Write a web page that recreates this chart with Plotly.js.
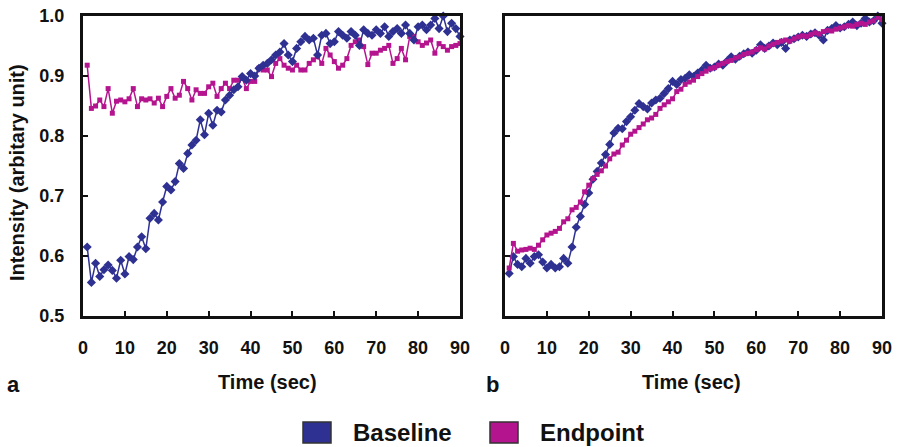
<!DOCTYPE html>
<html>
<head>
<meta charset="utf-8">
<script src="https://cdn.plot.ly/plotly-3.0.1.min.js"></script>
<style>html,body{margin:0;padding:0;background:#fff;}#chart{width:899px;height:447px;}</style>
</head>
<body>
<div id="chart"></div>
<script>
const timeSec = [1,2,3,4,5,6,7,8,9,10,11,12,13,14,15,16,17,18,19,20,21,22,23,24,25,26,27,28,29,30,
  31,32,33,34,35,36,37,38,39,40,41,42,43,44,45,46,47,48,49,50,51,52,53,54,55,56,57,58,59,60,
  61,62,63,64,65,66,67,68,69,70,71,72,73,74,75,76,77,78,79,80,81,82,83,84,85,86,87,88,89,90];

const baselineA = [0.615,0.556,0.588,0.566,0.577,0.585,0.576,0.563,0.593,0.570,0.599,0.594,0.615,0.632,0.612,
  0.663,0.671,0.660,0.690,0.716,0.710,0.724,0.754,0.746,0.771,0.785,0.793,0.827,0.802,0.838,
  0.818,0.843,0.840,0.860,0.868,0.877,0.882,0.899,0.893,0.904,0.900,0.913,0.918,0.921,0.927,0.935,
  0.940,0.954,0.935,0.924,0.946,0.957,0.966,0.960,0.963,0.935,0.968,0.971,0.954,0.957,
  0.974,0.968,0.963,0.974,0.968,0.951,0.977,0.971,0.968,0.977,0.971,0.982,0.966,0.974,0.979,
  0.971,0.985,0.971,0.960,0.982,0.985,0.977,0.985,0.996,0.979,1.000,0.974,0.988,0.979,0.966];

const endpointA = [0.918,0.846,0.850,0.860,0.849,0.879,0.838,0.858,0.860,0.857,0.862,0.879,0.849,0.862,0.860,
  0.862,0.855,0.863,0.849,0.866,0.879,0.863,0.868,0.891,0.879,0.860,0.877,0.871,0.871,0.882,
  0.888,0.866,0.879,0.888,0.879,0.893,0.893,0.896,0.879,0.891,0.891,0.913,0.910,0.910,0.899,
  0.921,0.929,0.918,0.913,0.910,0.918,0.910,0.910,0.921,0.927,0.932,0.921,0.946,0.935,0.924,
  0.913,0.918,0.929,0.951,0.957,0.960,0.949,0.919,0.938,0.938,0.943,0.946,0.951,0.921,0.929,
  0.946,0.927,0.966,0.966,0.957,0.951,0.955,0.960,0.938,0.954,0.949,0.943,0.949,0.951,0.954];

const baselineB = [0.571,0.599,0.586,0.582,0.596,0.588,0.599,0.602,0.590,0.580,0.586,0.580,0.582,0.596,0.588,
  0.615,0.648,0.666,0.686,0.705,0.728,0.741,0.755,0.769,0.786,0.805,0.813,0.812,0.824,0.832,
  0.843,0.854,0.849,0.845,0.855,0.860,0.863,0.871,0.879,0.891,0.886,0.894,0.896,0.902,0.899,
  0.905,0.910,0.918,0.913,0.915,0.920,0.918,0.925,0.932,0.928,0.933,0.937,0.940,0.938,0.943,
  0.952,0.946,0.950,0.955,0.952,0.956,0.946,0.960,0.962,0.965,0.968,0.966,0.970,0.972,0.968,
  0.960,0.976,0.979,0.984,0.980,0.982,0.986,0.990,0.984,0.988,0.996,0.990,0.992,1.000,0.988];

const endpointB = [0.580,0.621,0.608,0.610,0.611,0.613,0.611,0.618,0.627,0.635,0.638,0.641,0.646,0.657,0.662,
  0.677,0.681,0.690,0.707,0.718,0.729,0.736,0.742,0.750,0.762,0.770,0.773,0.785,0.793,0.803,
  0.808,0.814,0.820,0.827,0.830,0.836,0.846,0.852,0.857,0.862,0.874,0.878,0.886,0.890,0.893,
  0.899,0.904,0.908,0.912,0.914,0.918,0.921,0.924,0.926,0.930,0.932,0.936,0.938,0.940,0.944,
  0.947,0.945,0.950,0.953,0.956,0.958,0.960,0.958,0.962,0.965,0.967,0.966,0.969,0.972,0.970,
  0.974,0.976,0.975,0.978,0.980,0.982,0.984,0.983,0.986,0.988,0.986,0.990,0.992,0.998,0.994];

const seriesNames = ['Baseline', 'Endpoint'];
const xTicks = [0,10,20,30,40,50,60,70,80,90];
const yTicks = [0.5,0.6,0.7,0.8,0.9,1.0];
const xTitle = 'Time (sec)';
const yTitle = 'Intensity (arbitary unit)';
const panelLabels = ['a', 'b'];

const BLUE = '#2e3192';
const MAG = '#b5148f';
const FONT = 'Liberation Sans, Arial, Helvetica, sans-serif';

function trace(y, name, color, sym, size, xa, ya) {
  return {
    x: timeSec, y: y, name: name, type: 'scatter', mode: 'lines+markers',
    xaxis: xa, yaxis: ya, showlegend: false, cliponaxis: false,
    line: {color: color, width: 1.5},
    marker: {color: color, symbol: sym, size: size}
  };
}

const data = [
  trace(endpointA, seriesNames[1], MAG, 'square', 5, 'x', 'y'),
  trace(baselineA, seriesNames[0], BLUE, 'diamond', 7, 'x', 'y'),
  trace(baselineB, seriesNames[0], BLUE, 'diamond', 7, 'x2', 'y2'),
  trace(endpointB, seriesNames[1], MAG, 'square', 5, 'x2', 'y2')
];

const W = 899, H = 447;
const px = v => v / W;
const py = v => 1 - v / H;

function xaxisDef(domain, anchor) {
  return {
    domain: domain, anchor: anchor, range: [0, 90], tickvals: xTicks,
    ticks: 'inside', ticklen: 5, tickwidth: 2, tickcolor: '#111',
    showline: true, linewidth: 3, linecolor: '#111', mirror: true,
    showgrid: false, zeroline: false, ticklabelstandoff: 13,
    tickfont: {family: FONT, size: 18, weight: 700, color: '#111'}
  };
}
function yaxisDef(anchor, showLabels) {
  return {
    domain: [py(316), py(16)], anchor: anchor, range: [0.5, 1.0], tickvals: yTicks,
    tickformat: '.1f', ticks: 'inside', ticklen: 5, tickwidth: 2, tickcolor: '#111',
    showline: true, linewidth: 3, linecolor: '#111', mirror: true,
    showgrid: false, zeroline: false, showticklabels: showLabels, ticklabelstandoff: 12,
    tickfont: {family: FONT, size: 18, weight: 700, color: '#111'}
  };
}

const annFont = (s) => ({family: FONT, size: s, weight: 700, color: '#111'});
const annotations = [
  {text: xTitle, x: px(267), y: py(382), xanchor: 'center', yanchor: 'middle', font: annFont(20)},
  {text: xTitle, x: px(691), y: py(382), xanchor: 'center', yanchor: 'middle', font: annFont(20)},
  {text: yTitle, x: px(17), y: py(173), xanchor: 'center', yanchor: 'middle', textangle: -90, font: annFont(20)},
  {text: panelLabels[0], x: px(13), y: py(384), xanchor: 'center', yanchor: 'middle', font: annFont(22)},
  {text: panelLabels[1], x: px(492), y: py(384), xanchor: 'center', yanchor: 'middle', font: annFont(22)},
  {text: seriesNames[0], x: px(351), y: py(432), xanchor: 'left', yanchor: 'middle', font: annFont(24)},
  {text: seriesNames[1], x: px(538), y: py(432), xanchor: 'left', yanchor: 'middle', font: annFont(24)}
].map(a => Object.assign({xref: 'paper', yref: 'paper', showarrow: false}, a));

const shapes = [
  {type: 'rect', xref: 'paper', yref: 'paper', x0: px(303), x1: px(331), y0: py(443), y1: py(422),
   fillcolor: BLUE, line: {color: '#333', width: 1.5}},
  {type: 'rect', xref: 'paper', yref: 'paper', x0: px(490), x1: px(518), y0: py(443), y1: py(422),
   fillcolor: MAG, line: {color: '#333', width: 1.5}}
];

const layout = {
  width: W, height: H, margin: {l: 0, r: 0, t: 0, b: 0},
  paper_bgcolor: '#fff', plot_bgcolor: '#fff', showlegend: false,
  xaxis: xaxisDef([px(83), px(460)], 'y'),
  yaxis: yaxisDef('x', true),
  xaxis2: xaxisDef([px(505), px(882)], 'y2'),
  yaxis2: yaxisDef('x2', false),
  annotations: annotations, shapes: shapes
};

Plotly.newPlot('chart', data, layout, {displayModeBar: false, staticPlot: true});
</script>
</body>
</html>
